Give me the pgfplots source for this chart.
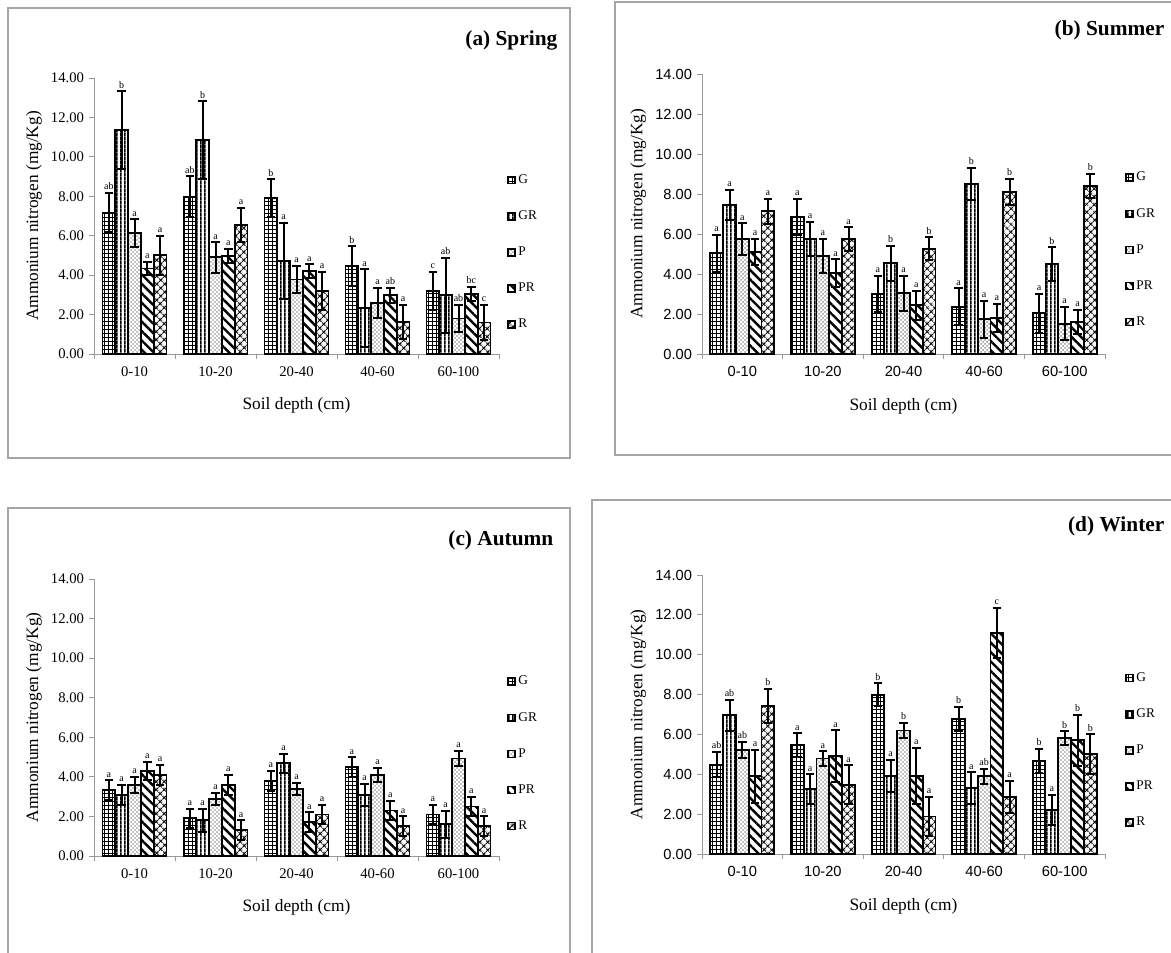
\documentclass[border=0pt]{standalone}
\usepackage{fontspec}
\setmainfont{Liberation Serif}
\newfontfamily\sansf{Liberation Sans}
\usepackage{pgfplots}
\usepackage{pgfplotstable}
\pgfplotsset{compat=1.18}
\usetikzlibrary{patterns,patterns.meta}

\pgfdeclarepatternformonly{vstripes}{\pgfpointorigin}{\pgfpoint{3.2pt}{3.2pt}}{\pgfpoint{3.2pt}{3.2pt}}{%
  \pgfpathrectangle{\pgfpoint{1pt}{0pt}}{\pgfpoint{1.2pt}{3.2pt}}\pgfusepath{fill}}
\pgfdeclarepatternformonly{bigdots}{\pgfpoint{-1pt}{-1pt}}{\pgfpoint{4pt}{4pt}}{\pgfpoint{3pt}{3pt}}{%
  \pgfpathcircle{\pgfpoint{0.75pt}{0.75pt}}{0.55pt}\pgfpathcircle{\pgfpoint{2.25pt}{2.25pt}}{0.55pt}\pgfusepath{fill}}

\pgfplotstableread{
x G Ge Gl GR GRe GRl P Pe Pl PR PRe PRl R Re Rl
0 7.18 0.99 ab 11.36 1.96 b 6.12 0.71 a 4.34 0.35 a 5.02 0.99 a
1 7.99 1.02 ab 10.85 1.96 b 4.90 0.77 a 4.97 0.36 a 6.55 0.88 a
2 7.90 0.97 b 4.73 1.94 a 3.78 0.70 a 4.22 0.34 a 3.20 0.97 a
3 4.47 1.00 b 2.33 1.96 a 2.59 0.78 a 2.98 0.39 ab 1.62 0.88 a
4 3.20 0.97 c 2.98 1.90 ab 1.80 0.70 ab 3.06 0.35 bc 1.60 0.90 c
}\tabA
\pgfplotstableread{
x G Ge Gl GR GRe GRl P Pe Pl PR PRe PRl R Re Rl
0 5.04 0.92 a 7.46 0.75 a 5.74 0.80 a 5.12 0.65 a 7.13 0.62 a
1 6.86 0.90 a 5.77 0.85 a 4.90 0.87 a 4.03 0.70 a 5.74 0.60 a
2 3.00 0.90 a 4.54 0.87 b 3.03 0.87 a 2.44 0.72 a 5.26 0.58 b
3 2.36 0.92 a 8.50 0.80 b 1.74 0.92 a 1.82 0.70 a 8.10 0.65 b
4 2.03 0.97 a 4.49 0.84 b 1.52 0.84 a 1.60 0.60 a 8.40 0.60 b
}\tabB
\pgfplotstableread{
x G Ge Gl GR GRe GRl P Pe Pl PR PRe PRl R Re Rl
0 3.34 0.50 a 3.10 0.50 a 3.60 0.40 a 4.30 0.45 a 4.10 0.50 a
1 1.90 0.50 a 1.80 0.60 a 2.90 0.30 a 3.60 0.50 a 1.30 0.50 a
2 3.80 0.50 a 4.68 0.50 a 3.40 0.30 a 1.70 0.50 a 2.10 0.50 a
3 4.50 0.50 a 3.10 0.55 a 4.10 0.35 a 2.30 0.50 a 1.50 0.50 a
4 2.10 0.50 a 1.60 0.70 a 4.93 0.40 a 2.50 0.50 a 1.50 0.50 a
}\tabC
\pgfplotstableread{
x G Ge Gl GR GRe GRl P Pe Pl PR PRe PRl R Re Rl
0 4.49 0.64 ab 6.96 0.78 ab 5.24 0.40 ab 3.90 1.34 a 7.43 0.87 b
1 5.46 0.59 a 3.25 0.75 a 4.79 0.37 a 4.90 1.30 a 3.48 0.97 a
2 8.00 0.57 b 3.93 0.80 a 6.20 0.38 b 3.93 1.40 a 1.88 0.98 a
3 6.78 0.62 b 3.31 0.79 a 3.90 0.39 ab 11.10 1.26 c 2.86 0.82 a
4 4.66 0.62 b 2.22 0.75 a 5.83 0.34 b 5.70 1.30 b 5.00 1.00 b
}\tabD

\pgfplotsset{
  eb/.style={error bars/y dir=both, error bars/y explicit,
      error bars/error bar style={line width=1.5pt, black, solid},
      error bars/error mark=-,
      error bars/error mark options={rotate=90, mark size=3.2pt, line width=1.5pt, black, solid}},
  pG/.style={draw=black, line width=1.4pt, pattern={Hatch[angle=0,distance=3pt,line width=0.6pt]}, eb},
  pGR/.style={draw=black, line width=1.4pt, pattern=vstripes, eb},
  pP/.style={draw=black, line width=1.4pt, pattern=bigdots, eb},
  pPR/.style={draw=black, line width=1.4pt, pattern={Lines[angle=-45,distance=5pt,line width=1.8pt]}, eb},
  pR/.style={draw=black, line width=1.4pt, pattern={Hatch[angle=45,distance=4pt,line width=0.8pt]}, eb},
  panel/.style={
    scale only axis, ybar=0pt, bar width=9.6pt,
    xmin=-0.5, xmax=4.5, ymin=0, ymax=14, ytick={0,2,...,14},
    xtick={-0.5,0.5,...,4.5}, xticklabels={0-10,10-20,20-40,40-60,60-100},
    x tick label as interval,
    axis lines=left, axis line style={-, draw=gray!80, line width=0.6pt},
    tick style={draw=gray!80, line width=0.6pt}, tick align=outside, major tick length=4pt,
    yticklabel style={/pgf/number format/.cd, fixed, fixed zerofill, precision=2},
    xticklabel style={yshift=-2pt},
    /pgf/number format/assume math mode=true,
    xlabel={Soil depth (cm)}, ylabel={Ammonium nitrogen (mg/Kg)},
    label style={font=\fontsize{13}{15}\selectfont},
    xlabel style={yshift=-9pt},
    legend style={draw=none, fill=none, anchor=north west, font=\fontsize{10}{12}\selectfont,
      row sep=15pt, inner sep=0pt, cells={anchor=west}},
    legend image code/.code={\draw[#1, line width=1.1pt] (0pt,-2.6pt) rectangle (5.2pt,2.6pt);},
    nodes near coords, point meta=explicit symbolic,
    every node near coord/.append style={font=\fontsize{7.5}{8}\selectfont, anchor=south,
      inner sep=1.5pt, shift={(axis direction cs:0,\err)}},
  },
}

\newcommand\bars[1]{%
  \addplot[pG, visualization depends on={\thisrow{Ge}\as\err}] table[x=x,y=G,y error=Ge,meta=Gl]{#1};
  \addplot[pGR, visualization depends on={\thisrow{GRe}\as\err}] table[x=x,y=GR,y error=GRe,meta=GRl]{#1};
  \addplot[pP, visualization depends on={\thisrow{Pe}\as\err}] table[x=x,y=P,y error=Pe,meta=Pl]{#1};
  \addplot[pPR, visualization depends on={\thisrow{PRe}\as\err}] table[x=x,y=PR,y error=PRe,meta=PRl]{#1};
  \addplot[pR, visualization depends on={\thisrow{Re}\as\err}] table[x=x,y=R,y error=Re,meta=Rl]{#1};
  \legend{G,GR,P,PR,R}
}

\begin{document}
\begin{tikzpicture}
\useasboundingbox (0,0) rectangle (878.25pt,-714.75pt);
\draw[gray!70, line width=0.8pt] (6pt,-6pt) rectangle (427.5pt,-343.5pt);
\draw[gray!70, line width=0.8pt] (461.25pt,-1.5pt) rectangle (882pt,-341.25pt);
\draw[gray!70, line width=0.8pt] (6pt,-381pt) rectangle (427.5pt,-720pt);
\draw[gray!70, line width=0.8pt] (444pt,-375pt) rectangle (882pt,-720pt);

\node[anchor=east, font=\bfseries\fontsize{16}{18}\selectfont] at (421.5pt,-30pt) {(a) Spring};
\node[anchor=east, font=\bfseries\fontsize{16}{18}\selectfont] at (876.75pt,-22.5pt) {(b) Summer};
\node[anchor=east, font=\bfseries\fontsize{16}{18}\selectfont] at (418.5pt,-405pt) {(c) Autumn};
\node[anchor=east, font=\bfseries\fontsize{16}{18}\selectfont] at (876.75pt,-395pt) {(d) Winter};

\begin{axis}[panel, at={(70.5pt,-265.5pt)}, anchor=south west, width=303.75pt, height=207pt,
  tick label style={font=\fontsize{11}{13}\selectfont},
  legend style={at={(1.02,0.66)}}]
\bars{\tabA}
\end{axis}

\begin{axis}[panel, at={(526.5pt,-265.5pt)}, anchor=south west, width=302.25pt, height=210pt,
  tick label style={font=\sansf\fontsize{11}{13}\selectfont},
  legend style={at={(1.05,0.66)}}]
\bars{\tabB}
\end{axis}

\begin{axis}[panel, at={(70.5pt,-642pt)}, anchor=south west, width=303.75pt, height=207.75pt,
  tick label style={font=\fontsize{11}{13}\selectfont},
  legend style={at={(1.02,0.66)}}]
\bars{\tabC}
\end{axis}

\begin{axis}[panel, at={(526.5pt,-640.5pt)}, anchor=south west, width=302.25pt, height=209.25pt,
  tick label style={font=\sansf\fontsize{11}{13}\selectfont},
  legend style={at={(1.05,0.66)}}]
\bars{\tabD}
\end{axis}
\end{tikzpicture}
\end{document}
